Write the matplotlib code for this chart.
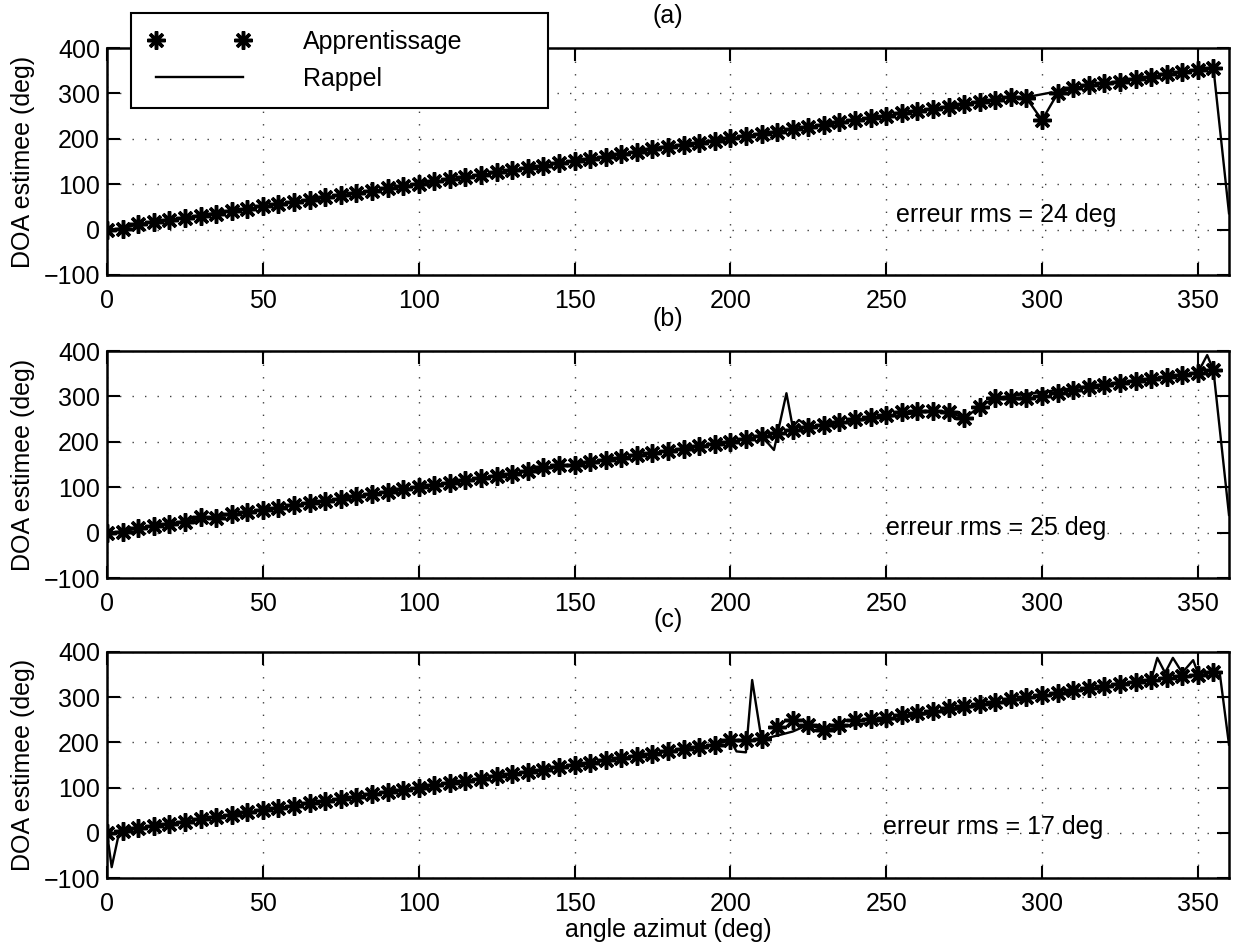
import numpy as np
import matplotlib
matplotlib.use("Agg")
import matplotlib.pyplot as plt

plt.rcParams["font.family"] = ["Liberation Sans", "DejaVu Sans"]

# training angles (deg) - one star every 5 deg
angles = np.arange(0, 360, 5)

# --- (a) ---------------------------------------------------------------
appr_a = [0, 2, 12, 17, 21, 26, 30, 35, 41, 46, 51, 56, 61, 66, 71, 76, 81, 86,
          91, 96, 100, 106, 111, 116, 121, 126, 131, 136, 141, 146, 151, 156,
          161, 166, 171, 178, 182, 186, 191, 196, 201, 206, 211, 216, 221, 226,
          231, 236, 241, 246, 251, 256, 261, 266, 271, 276, 281, 286, 292, 290,
          241, 300, 312, 318, 322, 326, 331, 336, 342, 347, 352, 356]
rapp_a_x = [0, 5, 10, 50, 100, 150, 170, 175, 180, 200, 250, 290, 295, 300,
            305, 310, 350, 355, 360, np.nan, 296, 303]
rapp_a_y = [0, 2, 12, 51, 100, 151, 171, 180, 183, 201, 251, 292, 290, 241,
            300, 312, 352, 356, 36, np.nan, 293, 302]

# --- (b) ---------------------------------------------------------------
appr_b = [0, 2, 10, 15, 20, 23, 35, 33, 40, 45, 50, 55, 60, 65, 70, 75, 80, 85,
          90, 95, 100, 105, 110, 115, 120, 125, 130, 135, 145, 148, 150, 155,
          160, 165, 170, 175, 180, 185, 190, 195, 200, 207, 213, 219, 226, 233,
          237, 244, 250, 255, 259, 265, 268, 268, 266, 252, 277, 297, 297, 297,
          301, 308, 314, 321, 325, 329, 334, 338, 342, 347, 352, 358]
rapp_b_x = [0, 5, 10, 100, 200, 205, 210, 214, 218, 220, 222, 225, 230, 265,
            270, 275, 280, 285, 350, 353, 355, 360]
rapp_b_y = [0, 2, 10, 100, 200, 207, 213, 182, 307, 233, 248, 233, 237, 268,
            266, 252, 277, 297, 352, 391, 358, 39]

# --- (c) ---------------------------------------------------------------
appr_c = [0, 5, 10, 15, 20, 25, 30, 35, 40, 45, 50, 55, 60, 65, 70, 75, 80, 85,
          90, 95, 100, 105, 110, 115, 120, 125, 130, 135, 140, 145, 150, 155,
          160, 165, 170, 175, 180, 185, 190, 195, 205, 205, 207, 235, 250, 239,
          228, 239, 250, 252, 255, 260, 265, 270, 275, 280, 285, 290, 295, 300,
          305, 310, 315, 320, 325, 330, 334, 338, 342, 347, 350, 356]
rapp_c_x = [0, 1.5, 4, 5, 10, 100, 195, 200, 202, 205, 207, 210, 215, 220,
            225, 230, 330, 335, 337, 339.5, 342, 345, 348.5, 350, 355, 357, 360]
rapp_c_y = [0, -76, 4, 5, 10, 100, 195, 205, 180, 178, 338, 207, 215, 224,
            239, 228, 334, 338, 387, 354, 387, 354, 382, 354, 356, 355, 195]

panels = [("(a)", appr_a, rapp_a_x, rapp_a_y, "erreur rms = 24 deg", 253, 32),
          ("(b)", appr_b, rapp_b_x, rapp_b_y, "erreur rms = 25 deg", 250, 10),
          ("(c)", appr_c, rapp_c_x, rapp_c_y, "erreur rms = 17 deg", 249, 12)]

W, H = 1236, 944
FS = 18
fig = plt.figure(figsize=(W / 100, H / 100), dpi=100)
# axes boxes in pixels (left, top, right, bottom)
boxes = [(107, 48, 1229, 275), (107, 351, 1229, 578), (107, 652, 1229, 878)]

star = (8, 2, 0)
axes = []
for (title, appr, rx, ry, txt, tx, ty), (l, t, r, b) in zip(panels, boxes):
    ax = fig.add_axes([l / W, 1 - b / H, (r - l) / W, (b - t) / H])
    ax.plot(angles, appr, linestyle="none", marker=star, ms=13, mew=2.5,
            color="black", label="Apprentissage")
    ax.plot(rx, ry, "-", color="black", lw=1.7, label="Rappel")
    ax.set_xlim(0, 360)
    ax.set_ylim(-100, 400)
    ax.set_xticks(range(0, 360, 50))
    ax.set_yticks(range(-100, 401, 100))
    ax.grid(True, color="0.25", linestyle=(0, (1, 8)), lw=1.0)
    ax.tick_params(direction="in", top=True, right=True, length=9, width=1.5,
                   labelsize=FS, pad=5)
    ax.tick_params(axis="x", pad=10)
    for s in ax.spines.values():
        s.set_linewidth(1.8)
    ax.set_title(title, fontsize=FS, pad=18)
    ax.set_ylabel("DOA estimee (deg)", fontsize=FS)
    ax.yaxis.set_label_coords(-0.064, 0.5)
    ax.text(tx, ty, txt, fontsize=FS, ha="left", va="center")
    axes.append(ax)

axes[2].set_xlabel("angle azimut (deg)", fontsize=FS)
axes[2].xaxis.set_label_coords(0.5, -0.177)

h, lab = axes[0].get_legend_handles_labels()
leg = fig.legend(h, lab, loc="upper left", numpoints=2, handlelength=4.1,
                 bbox_to_anchor=(131 / W, 1 - 106 / H, (548 - 131) / W, 93 / H),
                 mode="expand", fontsize=FS, frameon=True, fancybox=False,
                 edgecolor="black", framealpha=1, borderpad=0.68,
                 labelspacing=0.52, handletextpad=2.1, borderaxespad=0)
leg.get_frame().set_linewidth(1.5)

fig.savefig("out.png", dpi=100)
